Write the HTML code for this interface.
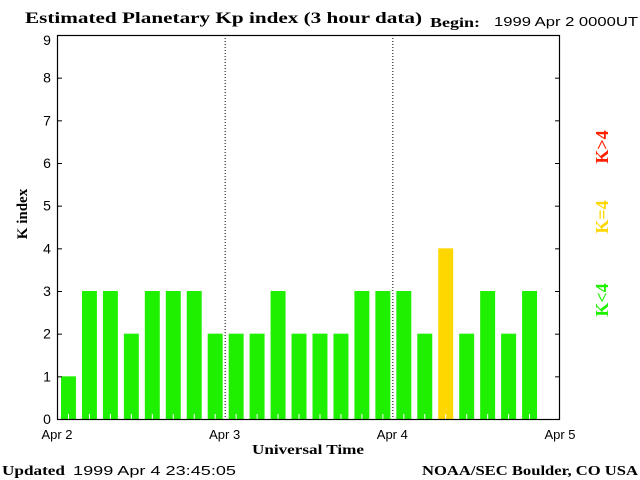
<!DOCTYPE html>
<html><head><meta charset="utf-8"><style>
html,body{margin:0;padding:0;background:#fff;}
svg{display:block;}
.serif{font-family:"Liberation Serif",serif;font-weight:bold;}
.sans{font-family:"Liberation Sans",sans-serif;}
</style></head><body>
<svg id="chart" width="640" height="480" viewBox="0 0 640 480" xmlns="http://www.w3.org/2000/svg">
<text class="serif" x="25" y="23" font-size="16" textLength="397" lengthAdjust="spacingAndGlyphs">Estimated Planetary Kp index (3 hour data)</text>
<text class="serif" x="430" y="27" font-size="14" textLength="50" lengthAdjust="spacingAndGlyphs">Begin:</text>
<text class="sans" x="494" y="26" font-size="13" textLength="144" lengthAdjust="spacingAndGlyphs">1999 Apr 2 0000UT</text>
<text class="serif" x="27" y="214" font-size="15" transform="rotate(-90 27 214)" text-anchor="middle">K index</text>
<text class="serif" x="252" y="454" font-size="14" textLength="112" lengthAdjust="spacingAndGlyphs">Universal Time</text>
<text class="serif" x="2" y="475" font-size="14" textLength="63" lengthAdjust="spacingAndGlyphs">Updated</text>
<text class="sans" x="73" y="475" font-size="13" textLength="163" lengthAdjust="spacingAndGlyphs">1999 Apr  4 23:45:05</text>
<text class="serif" x="422" y="475" font-size="14" textLength="216" lengthAdjust="spacingAndGlyphs">NOAA/SEC Boulder, CO USA</text>
<text class="serif" x="608" y="300" font-size="18" fill="#1ef000" transform="rotate(-90 608 300)" text-anchor="middle">K&lt;4</text>
<text class="serif" x="608" y="217" font-size="18" fill="#ffd700" transform="rotate(-90 608 217)" text-anchor="middle">K=4</text>
<text class="serif" x="608" y="147" font-size="18" fill="#ff2000" transform="rotate(-90 608 147)" text-anchor="middle">K&gt;4</text>
<g id="bars"></g>
<g id="axes"></g>
</svg>
<script>
const kpValues = [1,3,3,2,3,3,3,2, 2,2,3,2,2,2,3,3, 3,2,4,2,3,2,3];
const yTicks = [0,1,2,3,4,5,6,7,8,9];
const dayLabels = ["Apr 2","Apr 3","Apr 4","Apr 5"];
const NS = "http://www.w3.org/2000/svg";
const L = 57, R = 560, T = 35, B = 419, YMAX = 9, SLOTS = 24;
function yScale(v){ return B - v * (B - T) / YMAX; }
function xScale(i){ return L + i * (R - L) / SLOTS; }
function mk(tag, attrs, parent){ const e = document.createElementNS(NS, tag); for (const k in attrs) e.setAttribute(k, attrs[k]); parent.appendChild(e); return e; }
const bars = document.getElementById('bars');
const axes = document.getElementById('axes');
const slotW = (R - L) / SLOTS;
kpValues.forEach((v, i) => {
  const col = v < 4 ? '#1ef000' : (v === 4 ? '#ffd700' : '#ff2000');
  const x = xScale(i) + 4;
  const r = mk('rect', {x: x, y: yScale(v), width: slotW - 6, height: B - yScale(v), fill: col}, bars);
  
  
  const t = mk('line', {x1: x + (slotW - 6) / 2, x2: x + (slotW - 6) / 2, y1: B - 5, y2: B, stroke: '#fff', 'stroke-width': 1}, bars);
  
  
});
for (let d = 1; d < dayLabels.length - 1; d++) {
  const x = xScale(d * 8) + 0.5;
  const ln = mk('line', {x1: x, x2: x, y1: T, y2: B, stroke: '#000', 'stroke-width': 1, 'stroke-dasharray': '1,2'}, axes);
  
  
}
const frame = mk('rect', {x: L + 0.5, y: T + 0.5, width: R - L - 1, height: B - T, fill: 'none', stroke: '#000', 'stroke-width': 1.2}, axes);


yTicks.forEach(v => {
  const y = yScale(v);
  const tl = mk('line', {x1: L, x2: L + 5, y1: y + 0.5, y2: y + 0.5, stroke: '#000'}, axes);
  
  
  const tr = mk('line', {x1: R - 5, x2: R, y1: y + 0.5, y2: y + 0.5, stroke: '#000'}, axes);
  
  
  const lb = mk('text', {x: 47, y: Math.max(y + 5, T + 10), 'font-size': 14, 'text-anchor': 'middle', 'font-family': '"Liberation Sans",sans-serif'}, axes);
  lb.textContent = v;
  
  
});
dayLabels.forEach((d, i) => {
  const lb = mk('text', {x: xScale(i * 8), y: 439, 'font-size': 13, 'text-anchor': 'middle', 'font-family': '"Liberation Sans",sans-serif'}, axes);
  lb.textContent = d;
  
  
});
</script>
</body></html>
